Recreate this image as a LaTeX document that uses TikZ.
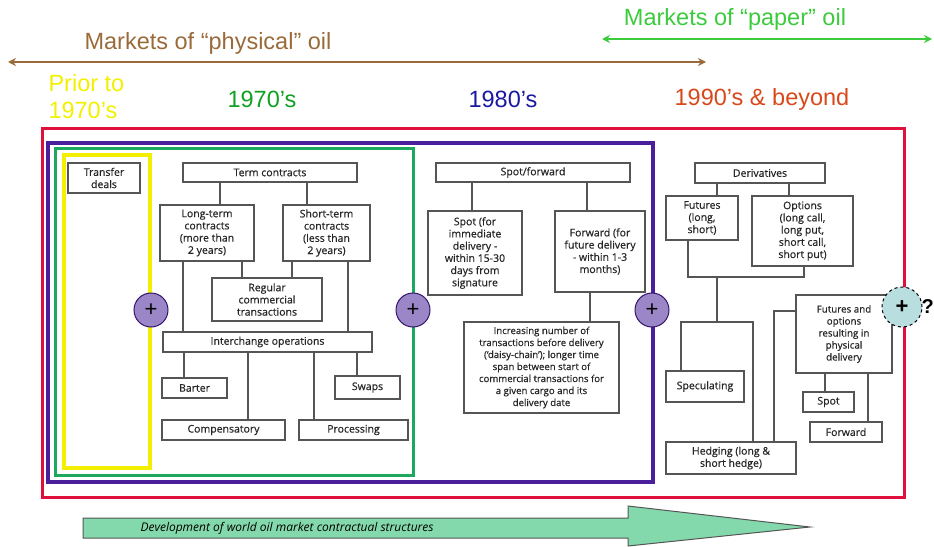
\documentclass[tikz,border=0pt]{standalone}
\usepackage{fontspec}
\setmainfont{Liberation Sans}
\newfontfamily\boxfont[FakeBold=0.5]{Open Sans}
\newfontfamily\devfont{Open Sans}
\usepackage{tikz}
\usepackage{xcolor}
\usetikzlibrary{shapes, positioning, arrows.meta}

\definecolor{physbrown}{HTML}{9A6B3A}
\definecolor{paperg}{HTML}{3CCB3C}
\definecolor{seventyg}{HTML}{11A022}
\definecolor{eightyb}{HTML}{1A1AA0}
\definecolor{ninetyr}{HTML}{D8481A}
\definecolor{framered}{HTML}{E0103C}
\definecolor{framepurple}{HTML}{4B1E9B}
\definecolor{framegreen}{HTML}{1DA860}
\definecolor{frameyellow}{HTML}{F2F000}
\definecolor{boxgray}{HTML}{555555}
\definecolor{plusfill}{HTML}{9B87C8}
\definecolor{qfill}{HTML}{B8DEE0}
\definecolor{devgreen}{HTML}{84D9AC}

\tikzset{
  box/.style={draw=boxgray, line width=1.2pt, fill=white, align=center, text=black!85,
    inner sep=1pt, font=\boxfont\fontsize{10.5}{12.2}\selectfont},
  conn/.style={draw=boxgray, line width=1.2pt},
  era/.style={font=\fontsize{23.5}{27}\selectfont, align=left},
  plus/.style={circle, draw=framepurple!70!black, fill=plusfill, line width=1pt,
    minimum size=34pt, inner sep=0pt, font=\fontsize{22}{22}\selectfont},
}

\begin{document}
\begin{tikzpicture}[x=1pt, y=-1pt]
        \useasboundingbox (0,0) rectangle (934,546);

        % timeline labels
        \node[era, text=paperg] (paper) at (735,19) {Markets of “paper” oil};
        \node[era, text=physbrown] (phys) at (208,43) {Markets of “physical” oil};
        \coordinate (paperl) at (602,39);
        \coordinate (paperr) at (932,39);
        \coordinate (physl) at (8,62);
        \coordinate (physr) at (706,62);
        \draw[paperg, line width=2.5pt, {Stealth[length=8pt,width=8pt]}-{Stealth[length=8pt,width=8pt]}] (paperl) -- (paperr);
        \draw[physbrown, line width=2.5pt, {Stealth[length=8pt,width=8pt]}-{Stealth[length=8pt,width=8pt]}] (physl) -- (physr);

        \node[era, text=frameyellow, anchor=west] (prior) at (45,97) {Prior to\\1970’s};
        \node[era, text=seventyg] (e70) at (262,99) {1970’s};
        \node[era, text=eightyb] (e80) at (503,99) {1980’s};
        \node[era, text=ninetyr] (e90) at (762,99) {1990’s \& beyond};

        % nested period frames
        \draw[framered, line width=3pt] (42,128) rectangle (904,497);
        \draw[framepurple, line width=3.5pt] (48,143) rectangle (653,482);
        \draw[framegreen, line width=3pt] (55,148) rectangle (413,475);
        \draw[frameyellow, line width=4pt] (64,155) rectangle (150,468);

        % prior to 1970s and 1970s
        \node[box, minimum width=72, minimum height=30] (trans) at (104,178) {Transfer\\deals};
        \node[box, minimum width=174, minimum height=19] (tc) at (270,172.5) {Term contracts};
        \node[box, minimum width=94, minimum height=56] (lt) at (207,233) {Long-term\\contracts\\(more than\\2 years)};
        \node[box, minimum width=87, minimum height=56] (st) at (326.5,233) {Short-term\\contracts\\(less than\\2 years)};
        \node[box, minimum width=110, minimum height=43] (reg) at (267,299.5) {Regular\\commercial\\transactions};
        \node[box, minimum width=209, minimum height=20] (ich) at (267.5,342) {Interchange operations};
        \node[box, minimum width=65, minimum height=20] (bar) at (194.5,388) {Barter};
        \node[box, minimum width=65, minimum height=23] (swp) at (367.5,387.5) {Swaps};
        \node[box, minimum width=123, minimum height=20] (comp) at (223.5,430) {Compensatory};
        \node[box, minimum width=109, minimum height=20] (proc) at (353.5,430) {Processing};

        \draw[conn] (tc.south -| 220,0) -- (lt.north -| 220,0)
            (tc.south -| 307,0) -- (st.north -| 307,0)
            (lt.south -| 183,0) -- (ich.north -| 183,0)
            (lt.south -| 242,0) -- (reg.north -| 242,0)
            (st.south -| 292,0) -- (reg.north -| 292,0)
            (st.south -| 348,0) -- (ich.north -| 348,0)
            (ich.south -| 184,0) -- (bar.north -| 184,0)
            (ich.south -| 248,0) -- (comp.north -| 248,0)
            (ich.south -| 314,0) -- (proc.north -| 314,0)
            (ich.south -| 357,0) -- (swp.north -| 357,0);

        % 1980s
        \node[box, minimum width=194, minimum height=19] (sf) at (533,172.5) {Spot/forward};
        \node[box, minimum width=94, minimum height=84] (spot) at (475,253) {Spot (for\\immediate\\delivery -\\within 15-30\\days from\\signature};
        \node[box, minimum width=90, minimum height=81] (fwd) at (600,251.5) {Forward (for\\future delivery\\- within 1-3\\months)};
        \node[box, minimum width=155, minimum height=91, font=\boxfont\fontsize{9.6}{12}\selectfont] (inc) at (541.5,367.5) {Increasing number of\\transactions before delivery\\(‘daisy-chain’); longer time\\span between start of\\commercial transactions for\\a given cargo and its\\delivery date};

        \draw[conn] (sf.south -| 472,0) -- (spot.north -| 472,0)
            (sf.south -| 587,0) -- (fwd.north -| 587,0)
            (fwd.south -| 590,0) -- (inc.north -| 590,0);

        % 1990s and beyond
        \node[box, minimum width=130, minimum height=20] (der) at (760,173) {Derivatives};
        \node[box, minimum width=72, minimum height=44] (fut) at (702,218) {Futures\\(long,\\short)};
        \node[box, minimum width=101, minimum height=70] (opt) at (802.5,231) {Options\\(long call,\\long put,\\short call,\\short put)};
        \node[box, minimum width=78, minimum height=31] (spec) at (705,386.5) {Speculating};
        \node[box, minimum width=130, minimum height=32] (hedge) at (731,458) {Hedging (long \&\\short hedge)};
        \node[box, minimum width=96, minimum height=78, font=\boxfont\fontsize{9.8}{12}\selectfont] (fop) at (844,334) {Futures and\\options\\resulting in\\physical\\delivery};
        \node[box, minimum width=51, minimum height=20] (pspot) at (828.5,402) {Spot};
        \node[box, minimum width=72, minimum height=20] (pfwd) at (846,432) {Forward};

        \coordinate (join) at (717,277);
        \coordinate (fork) at (717,322);
        \draw[conn] (der.south -| 717,0) -- (fut.north -| 717,0)
            (der.south -| 789,0) -- (opt.north -| 789,0)
            (fut.south -| 688,0) |- (join) -| (opt.south -| 804,0)
            (join) -- (fork)
            (spec.north -| 681,0) |- (fork) -| (hedge.north -| 753,0)
            (hedge.north -| 774,0) |- (fop.west |- 0,311)
            (fop.south -| 825,0) -- (pspot.north -| 825,0)
            (fop.south -| 868,0) -- (pfwd.north -| 868,0);

        % links between periods
        \node[plus] (p1) at (151,310) {+};
        \node[plus] (p2) at (413,310) {+};
        \node[plus] (p3) at (652,310) {+};
        \node[circle, draw=black, dashed, fill=qfill, line width=1pt, minimum size=40pt,
            inner sep=0pt, font=\bfseries\fontsize{22}{22}\selectfont] (p4) at (902,307) {+};
        \node[font=\bfseries\fontsize{20}{20}\selectfont, anchor=west, inner sep=0pt] (q) at ([xshift=-1pt]p4.east) {?};

        % development arrow
        \draw[draw=boxgray, fill=devgreen, line width=1pt] (83,518) -- (628,518) -- (628,506)
            -- (810,527) -- (628,546) -- (628,538) -- (83,538) -- cycle;
        \node[anchor=west, font=\devfont\itshape\fontsize{12}{14}\selectfont] (dev) at (137,528)
            {Development of world oil market contractual structures};
    \end{tikzpicture}
\end{document}
